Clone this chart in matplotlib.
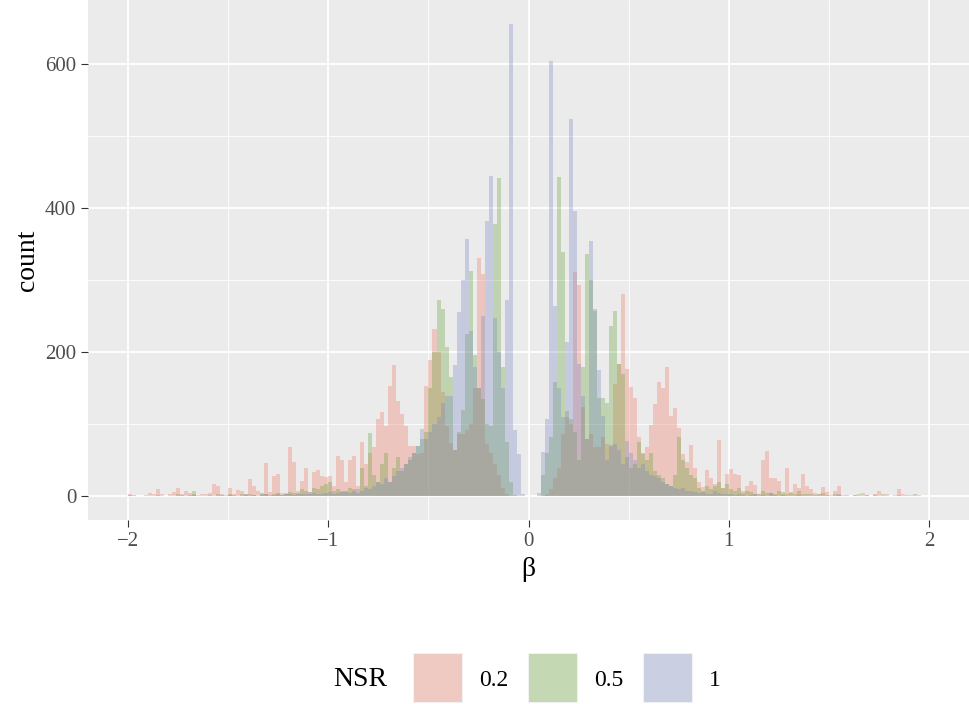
import numpy as np
import matplotlib
matplotlib.use("Agg")
import matplotlib.pyplot as plt
from matplotlib.patches import Rectangle

bin_start = -2.0
bin_width = 0.02

nsr_labels = ["0.2", "0.5", "1"]

counts_02 = [
    3,1,0,0,2,5,4,11,3,1, 4,6,12,3,8,5,4,2,3,3,
    5,18,14,3,2,12,4,9,8,3, 24,15,8,3,47,6,28,31,5,5,
    68,48,8,21,40,6,34,37,28,27, 28,15,56,50,20,50,56,15,75,45,
    60,68,108,117,98,154,182,133,115,98, 70,70,59,60,153,189,233,200,145,98,
    74,64,87,87,92,100,150,331,309,73, 60,45,30,12,4,1,0,0,0,0,
    0,0,0,0,3,10,25,40,87,110, 100,312,293,124,80,87,69,69,82,73,
    71,156,184,281,177,152,136,82,59,68, 99,129,159,150,180,111,123,95,59,48,
    72,40,20,13,37,25,18,78,12,31, 38,31,30,8,14,22,16,4,51,63,
    25,25,21,4,40,6,18,12,31,15, 11,5,4,13,6,2,8,15,2,1,
    1,2,1,5,2,1,3,7,1,4, 1,2,10,4,1,2,1,2,1,1,
]

counts_05 = [
    2,2,1,0,1,0,1,2,0,1, 1,0,3,2,1,2,8,0,1,0,
    2,1,3,2,1,3,2,1,3,2, 4,2,1,5,3,2,4,5,2,3,
    6,5,4,10,8,3,12,10,15,18, 20,8,10,6,8,12,10,5,40,15,
    88,30,20,45,60,20,40,55,35,45, 50,60,70,80,90,150,200,272,260,207,
    166,64,90,120,226,313,196,150,135,100, 98,378,442,180,75,20,2,0,0,0,
    0,0,1,30,60,82,159,443,339,119, 108,90,50,180,336,300,260,137,137,130,
    237,257,184,170,55,40,45,75,60,50, 60,35,30,25,18,15,30,82,50,40,
    30,25,12,8,15,10,15,20,12,18, 10,8,12,5,8,6,4,3,8,5,
    5,3,8,6,4,5,3,8,4,3, 4,2,3,5,2,1,3,2,1,2,
    1,2,3,1,2,1,2,1,4,1, 1,1,2,1,2,1,3,1,0,1,
]

counts_1 = [
    0,0,0,1,0,0,1,0,0,1, 0,1,0,0,1,0,2,1,0,0,
    1,0,0,1,0,2,1,0,1,3, 1,2,0,2,3,1,2,3,2,4,
    3,2,5,3,4,6,5,3,4,5, 6,4,5,8,6,5,7,10,8,12,
    10,15,20,18,25,20,28,35,40,45, 55,60,70,93,80,90,100,110,130,140,
    140,182,256,300,358,230,180,150,250,382, 445,247,200,150,272,655,92,59,3,0,
    0,0,5,62,108,605,265,150,110,214, 524,396,184,140,80,355,258,175,112,50,
    70,73,64,45,77,60,50,40,45,35, 30,28,25,20,18,15,12,10,12,8,
    8,6,5,6,4,3,8,5,3,4, 3,2,3,2,1,2,3,1,2,1,
    5,2,1,2,1,0,1,2,1,0, 1,0,1,0,0,1,0,3,1,0,
    0,1,0,0,1,0,0,1,0,0, 0,1,0,0,0,0,1,0,0,0,
]

series = [counts_02, counts_05, counts_1]
colors = ["#EB775F", "#66A234", "#7787C3"]
alpha = 0.32

plt.rcParams['font.family'] = ['Liberation Serif', 'DejaVu Serif']

W, H = 969, 704
fig = plt.figure(figsize=(W / 100, H / 100), dpi=100)
ax = fig.add_axes([0.091, 0.261, 0.909, 0.739])
ax.set_facecolor("#EBEBEB")

edges = bin_start + bin_width * np.arange(len(counts_02))
for vals, col in zip(series, colors):
    ax.bar(edges, vals, width=bin_width, align="edge", color=col, alpha=alpha,
           linewidth=0, zorder=3)

ax.set_xlim(-2.2, 2.2)
ax.set_ylim(-33, 689)
ax.set_xticks([-2, -1, 0, 1, 2])
ax.set_xticklabels(["\u22122", "\u22121", "0", "1", "2"])
ax.set_xticks([-1.5, -0.5, 0.5, 1.5], minor=True)
ax.set_yticks([0, 200, 400, 600])
ax.set_yticks([100, 300, 500], minor=True)
ax.grid(which="major", color="white", linewidth=1.3, zorder=0)
ax.grid(which="minor", color="white", linewidth=0.6, zorder=0)
ax.set_axisbelow(True)
for s in ax.spines.values():
    s.set_visible(False)
ax.tick_params(which="major", length=5, color="#333333", labelsize=15,
               labelcolor="#4D4D4D")
ax.tick_params(which="minor", length=0)
ax.set_xlabel("\u03b2", fontsize=20)
ax.set_ylabel("count", fontsize=20)

# legend drawn in figure pixel coordinates
def fx(px):
    return px / W

def fy(py):
    return 1 - py / H

key_lefts = [413, 528, 643]
key_top, key_size = 653, 50
ycen = fy(680)
fig.text(fx(333), ycen, "NSR", fontsize=20, va="center", ha="left")
for kl, col, lab in zip(key_lefts, colors, nsr_labels):
    fig.patches.append(Rectangle((fx(kl), fy(key_top + key_size)), fx(key_size),
                                 key_size / H, transform=fig.transFigure,
                                 facecolor="#F2F2F2", edgecolor="none"))
    fig.patches.append(Rectangle((fx(kl + 1), fy(key_top + key_size - 1)),
                                 fx(key_size - 2), (key_size - 2) / H,
                                 transform=fig.transFigure, facecolor=col,
                                 alpha=alpha, edgecolor="none"))
    fig.text(fx(kl + key_size + 16), ycen, lab, fontsize=17, va="center",
             ha="left")

fig.savefig("out.png", dpi=100)
